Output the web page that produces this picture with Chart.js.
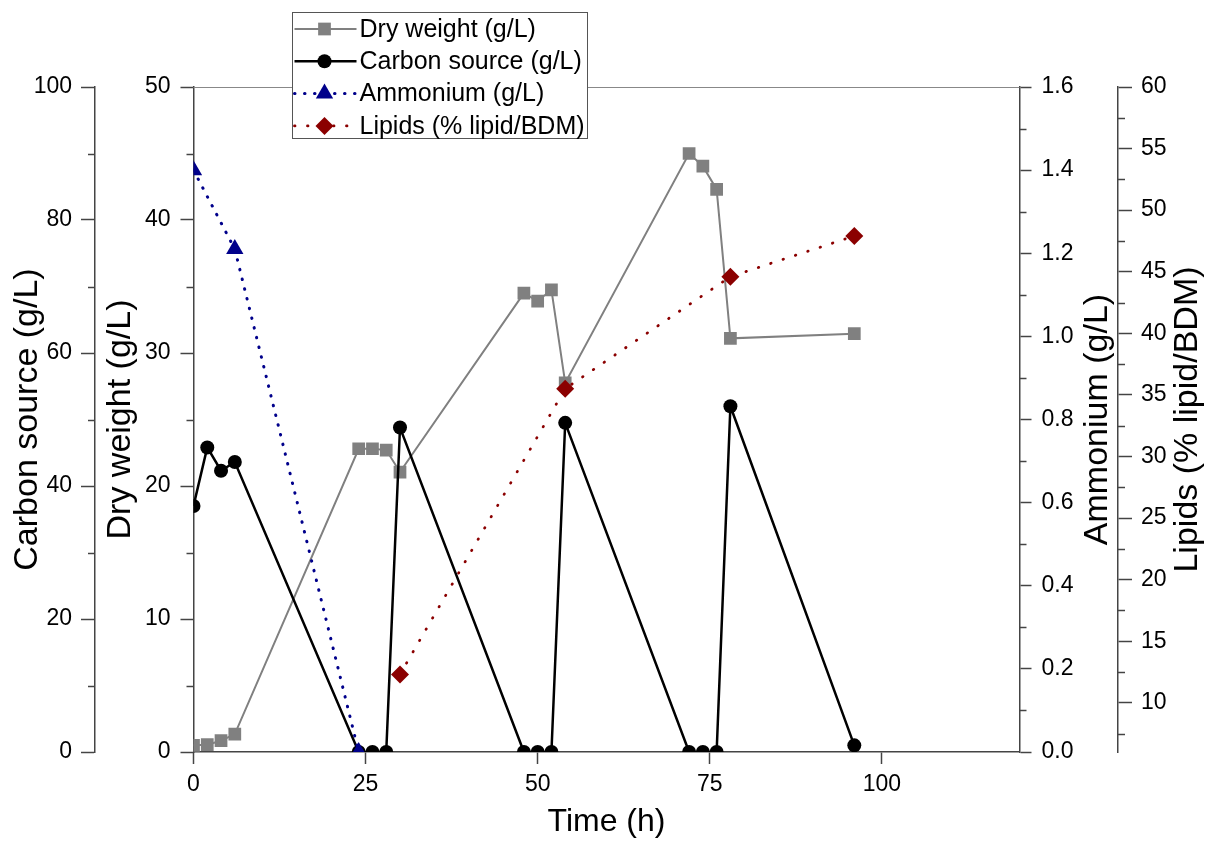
<!DOCTYPE html>
<html>
<head>
<meta charset="utf-8">
<title>Culture time course</title>
<script src="https://cdn.jsdelivr.net/npm/chart.js@4.4.1/dist/chart.umd.min.js"></script>
<style>
  html, body { margin: 0; padding: 0; background: #fff; }
  #wrap { width: 1208px; height: 841px; }
</style>
</head>
<body>
<div id="wrap"><canvas id="chart"></canvas></div>
<script>
// sampling times (h)
const timeMain = [0, 2, 4, 6, 24, 26, 28, 30, 48, 50, 52, 54, 72, 74, 76, 78, 96];
const timeAmmonium = [0, 6, 24];
const timeLipids = [30, 54, 78, 96];

// series values
const dryWeight = [0.5, 0.55, 0.85, 1.35, 22.8, 22.8, 22.7, 21.05, 34.5, 33.9, 34.75, 27.75, 45.0, 44.05, 42.3, 31.1, 31.45];
const carbonSource = [37.0, 45.8, 42.3, 43.6, 0, 0, 0, 48.8, 0, 0, 0, 49.5, 0, 0, 0, 52.0, 1.0];
const ammonium = [1.40, 1.21, 0];
const lipids = [12.3, 35.5, 44.6, 47.9];

// tick values
const xTicks = [0, 25, 50, 75, 100];
const dryTicks = [0, 10, 20, 30, 40, 50];
const carbonTicks = [0, 20, 40, 60, 80, 100];
const ammoniumTicks = [0, 0.2, 0.4, 0.6, 0.8, 1.0, 1.2, 1.4, 1.6];
const lipidTicks = [10, 15, 20, 25, 30, 35, 40, 45, 50, 55, 60];

const seriesNames = ["Dry weight (g/L)", "Carbon source (g/L)", "Ammonium (g/L)", "Lipids (% lipid/BDM)"];

const FONT = "'Liberation Sans', Arial, Helvetica, sans-serif";
const ink = "#444";

Chart.defaults.font.family = FONT;
Chart.defaults.color = "#000";

function pairs(xs, ys) {
  return xs.map((x, i) => ({ x: x, y: ys[i] }));
}

// axis with fixed tick values and fixed box size
function axis(position, weight, min, max, tickVals, size, tickLen, pad, extra) {
  return Object.assign({
    type: "linear",
    position: position,
    weight: weight,
    min: min,
    max: max,
    afterBuildTicks: s => { s.ticks = tickVals.map(v => ({ value: v })); },
    afterFit: s => {
      if (position === "bottom") s.height = size; else s.width = size;
    },
    border: { display: true, color: ink, width: 1.5 },
    grid: { display: true, drawOnChartArea: false, drawTicks: true, tickLength: tickLen, tickColor: ink, tickWidth: 1.5 },
    ticks: { color: "#000", font: { size: 23 }, padding: pad, autoSkip: false, maxRotation: 0 }
  }, extra || {});
}

// short ticks half way between labelled ones
const minorTicks = {
  id: "minorTicks",
  afterDraw(chart) {
    const ctx = chart.ctx;
    ["yDry", "yCarbon", "yAmm", "yLip"].forEach(id => {
      const s = chart.scales[id];
      const vals = s.ticks.map(t => t.value);
      const step = vals[1] - vals[0];
      const minors = [];
      if (vals[0] - step / 2 >= s.min) minors.push(vals[0] - step / 2);
      for (let i = 0; i < vals.length - 1; i++) minors.push((vals[i] + vals[i + 1]) / 2);
      const x0 = s.position === "left" ? s.right : s.left;
      const dir = s.position === "left" ? -1 : 1;
      ctx.save();
      ctx.strokeStyle = ink;
      ctx.lineWidth = 1.5;
      minors.forEach(v => {
        const y = Math.round(s.getPixelForValue(v)) + 0.5;
        ctx.beginPath();
        ctx.moveTo(x0, y);
        ctx.lineTo(x0 + dir * 7, y);
        ctx.stroke();
      });
      ctx.restore();
    });
  }
};

// top frame line + right-hand titles read bottom to top
const frameAndTitles = {
  id: "frameAndTitles",
  afterDraw(chart) {
    const ctx = chart.ctx;
    const a = chart.chartArea;
    ctx.save();
    ctx.strokeStyle = "#888";
    ctx.lineWidth = 1.2;
    ctx.beginPath();
    ctx.moveTo(a.left, a.top + 0.5);
    ctx.lineTo(a.right, a.top + 0.5);
    ctx.stroke();

    ctx.fillStyle = "#000";
    ctx.font = "34px " + FONT;
    ctx.textAlign = "center";
    ctx.textBaseline = "middle";
    [["yAmm", "Ammonium (g/L)"], ["yLip", "Lipids (% lipid/BDM)"]].forEach(([id, text]) => {
      const s = chart.scales[id];
      ctx.save();
      ctx.translate(s.right - 20, (a.top + a.bottom) / 2);
      ctx.rotate(-Math.PI / 2);
      ctx.fillText(text, 0, 0);
      ctx.restore();
    });
    ctx.restore();
  }
};

function marker(ctx, style, r, x, y) {
  ctx.beginPath();
  if (style === "circle") {
    ctx.arc(x, y, r, 0, Math.PI * 2);
  } else if (style === "rect") {
    const h = r * Math.SQRT1_2;
    ctx.rect(x - h, y - h, 2 * h, 2 * h);
  } else if (style === "triangle") {
    ctx.moveTo(x, y - r);
    ctx.lineTo(x + r * 0.866, y + r * 0.5);
    ctx.lineTo(x - r * 0.866, y + r * 0.5);
    ctx.closePath();
  } else {
    ctx.moveTo(x, y - r);
    ctx.lineTo(x + r, y);
    ctx.lineTo(x, y + r);
    ctx.lineTo(x - r, y);
    ctx.closePath();
  }
  ctx.fill();
}

// boxed legend overlapping the top of the plot
const boxLegend = {
  id: "boxLegend",
  afterDraw(chart) {
    const ctx = chart.ctx;
    const left = 292.5, top = 12.5, w = 295, h = 126;
    ctx.save();
    ctx.fillStyle = "#fff";
    ctx.fillRect(left, top, w, h);
    ctx.strokeStyle = "#555";
    ctx.lineWidth = 1;
    ctx.strokeRect(left, top, w, h);
    ctx.font = "25px " + FONT;
    ctx.textBaseline = "middle";
    ctx.textAlign = "left";
    chart.data.datasets.forEach((ds, i) => {
      const y = 29 + i * 32.3;
      ctx.strokeStyle = ds.borderColor;
      ctx.lineWidth = ds.borderWidth;
      ctx.lineCap = ds.borderCapStyle || "butt";
      ctx.setLineDash(ds.borderDash || []);
      ctx.beginPath();
      ctx.moveTo(left + 2, y);
      ctx.lineTo(left + 64, y);
      ctx.stroke();
      ctx.setLineDash([]);
      ctx.fillStyle = ds.backgroundColor;
      marker(ctx, ds.pointStyle, ds.pointRadius, left + 32, y);
      ctx.fillStyle = "#000";
      ctx.fillText(ds.label, left + 67, y + 1);
    });
    ctx.restore();
  }
};

new Chart(document.getElementById("chart"), {
  type: "line",
  data: {
    datasets: [
      {
        label: seriesNames[0],
        data: pairs(timeMain, dryWeight),
        yAxisID: "yDry",
        borderColor: "#808080",
        backgroundColor: "#808080",
        borderWidth: 2,
        pointStyle: "rect",
        pointRadius: 9,
        pointBorderWidth: 0,
        clip: 0,
        order: 4
      },
      {
        label: seriesNames[1],
        data: pairs(timeMain, carbonSource),
        yAxisID: "yCarbon",
        borderColor: "#000",
        backgroundColor: "#000",
        borderWidth: 2.5,
        pointStyle: "circle",
        pointRadius: 7,
        pointBorderWidth: 0,
        clip: 0,
        order: 3
      },
      {
        label: seriesNames[2],
        data: pairs(timeAmmonium, ammonium),
        yAxisID: "yAmm",
        borderColor: "#00008b",
        backgroundColor: "#00008b",
        borderWidth: 3,
        borderDash: [0.5, 9.5],
        borderCapStyle: "round",
        pointStyle: "triangle",
        pointRadius: 10,
        pointBorderWidth: 0,
        clip: 0,
        order: 2
      },
      {
        label: seriesNames[3],
        data: pairs(timeLipids, lipids),
        yAxisID: "yLip",
        borderColor: "#8b0000",
        backgroundColor: "#8b0000",
        borderWidth: 2.8,
        borderDash: [0.5, 12.5],
        borderCapStyle: "round",
        pointStyle: "rectRot",
        pointRadius: 9,
        pointBorderWidth: 0,
        clip: 0,
        order: 1
      }
    ]
  },
  options: {
    responsive: true,
    maintainAspectRatio: false,
    animation: false,
    devicePixelRatio: 1,
    layout: { padding: { top: 87, left: 0, right: 0, bottom: 0 } },
    plugins: {
      legend: { display: false },
      tooltip: { enabled: false }
    },
    scales: {
      x: axis("bottom", 0, 0, 120, xTicks, 89, 12, 7, {
        title: { display: true, text: "Time (h)", color: "#000", font: { size: 32 }, padding: { top: 0, bottom: 0 } }
      }),
      yDry: axis("left", 0, 0, 50, dryTicks, 98.5, 13, 10, {
        title: { display: true, text: "Dry weight (g/L)", color: "#000", font: { size: 34 }, padding: { top: 5, bottom: 0 } }
      }),
      yCarbon: axis("left", 1, 0, 100, carbonTicks, 95, 14, 9, {
        title: { display: true, text: "Carbon source (g/L)", color: "#000", font: { size: 34 }, padding: { top: 7, bottom: 0 } }
      }),
      yAmm: axis("right", 0, 0, 1.6, ammoniumTicks, 98.5, 12, 10, {
        ticks: { color: "#000", font: { size: 23 }, padding: 10, autoSkip: false, callback: v => v.toFixed(1) }
      }),
      yLip: axis("right", 1, 6, 60, lipidTicks, 90, 14, 9)
    }
  },
  plugins: [minorTicks, frameAndTitles, boxLegend]
});
</script>
</body>
</html>
